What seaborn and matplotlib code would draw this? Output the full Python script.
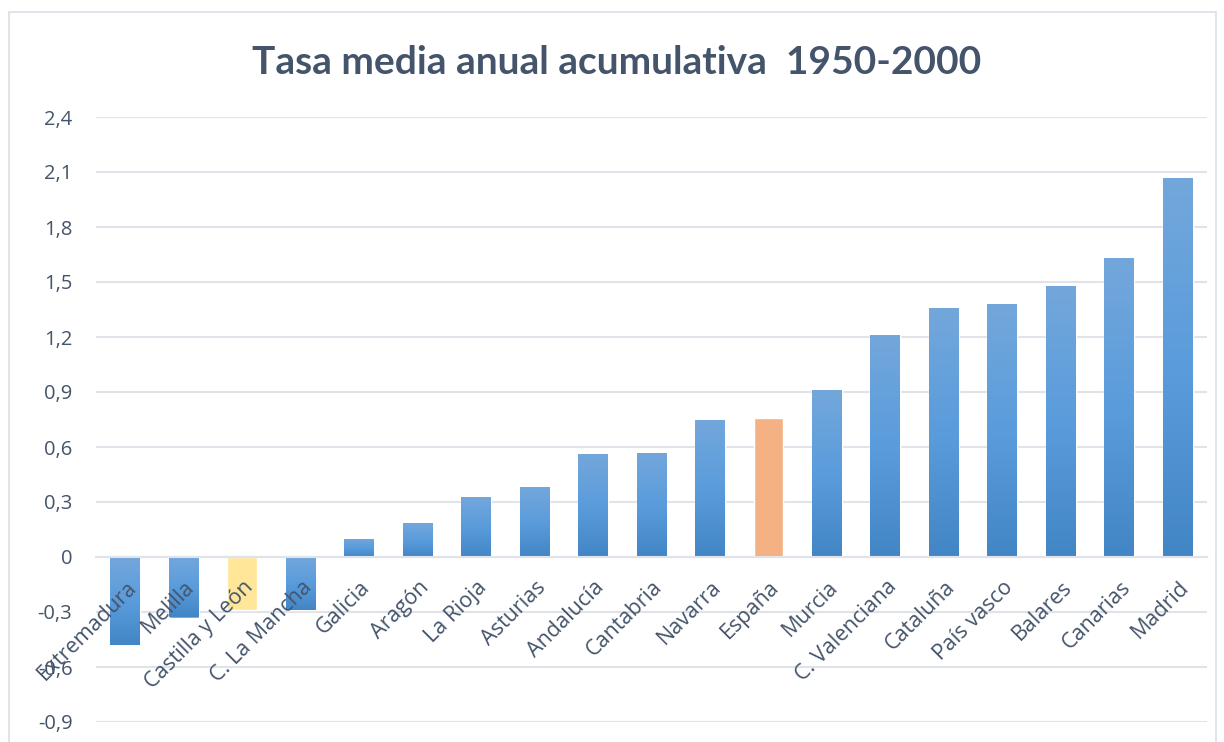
import numpy as np
import pandas as pd
import seaborn as sns
import matplotlib.pyplot as plt
import matplotlib.transforms as mtransforms
from matplotlib.patches import Rectangle
from matplotlib.colors import LinearSegmentedColormap
from matplotlib.ticker import FuncFormatter

# DATA
regions = ['Extremadura', 'Melilla', 'Castilla y León', 'C. La Mancha', 'Galicia',
           'Aragón', 'La Rioja', 'Asturias', 'Andalucía', 'Cantabria', 'Navarra',
           'España', 'Murcia', 'C. Valenciana', 'Cataluña', 'País vasco',
           'Balares', 'Canarias', 'Madrid']
rates = [-0.48, -0.33, -0.29, -0.29, 0.10, 0.185, 0.33, 0.38, 0.56, 0.57, 0.75,
         0.76, 0.91, 1.21, 1.36, 1.38, 1.48, 1.63, 2.07]
highlight = {'Castilla y León': '#FFE699', 'España': '#F4B183'}
y_ticks = [-0.9, -0.6, -0.3, 0, 0.3, 0.6, 0.9, 1.2, 1.5, 1.8, 2.1, 2.4]

df = pd.DataFrame({'region': regions, 'rate': rates})

text_col = '#44546A'
grid_col = '#E0E4EA'
blue = '#5B9BD5'
palette = {r: highlight.get(r, blue) for r in regions}

sns.set_theme(style='white')
plt.rcParams['font.family'] = ['Open Sans', 'DejaVu Sans']

fig = plt.figure(figsize=(12.24, 7.42), dpi=100)
ax = fig.add_axes([96 / 1224, 20 / 742, 1111 / 1224, 605 / 742])

sns.barplot(data=df, x='region', y='rate', hue='region', palette=palette,
            legend=False, width=0.51, saturation=1, ax=ax, zorder=2)

# Excel-like vertical gradient on the blue bars
grad = LinearSegmentedColormap.from_list('g', ['#4386C6', '#5A9CDC', '#73A7DB'])
for patch, r in zip(ax.patches, regions):
    if r in highlight:
        continue
    x0, y0 = patch.get_x(), patch.get_y()
    w, h = patch.get_width(), patch.get_height()
    lo, hi = min(y0, y0 + h), max(y0, y0 + h)
    img = np.linspace(0, 1, 100).reshape(-1, 1)
    im = ax.imshow(img, cmap=grad, origin='lower', aspect='auto',
                   extent=[x0, x0 + w, lo, hi], zorder=2.5)
    im.set_clip_path(patch)

ax.set_xlim(-0.5, len(regions) - 0.5)
ax.set_ylim(-0.9, 2.4)
ax.set_yticks(y_ticks)
ax.yaxis.set_major_formatter(FuncFormatter(
    lambda v, p: '0' if abs(v) < 1e-9 else f'{v:.1f}'.replace('.', ',')))
ax.grid(axis='y', color=grid_col, linewidth=1.5, zorder=0)
ax.set_axisbelow(True)
for s in ['top', 'right', 'left']:
    ax.spines[s].set_visible(False)
ax.spines['bottom'].set_position(('data', 0))
ax.spines['bottom'].set_color(grid_col)
ax.spines['bottom'].set_linewidth(1.5)
ax.spines['bottom'].set_zorder(3)

ax.tick_params(axis='y', length=0, pad=17, labelsize=14.5, labelcolor=text_col)
ax.set_xticks(range(len(regions)))
ax.set_xticklabels([])
ax.tick_params(axis='x', length=0)
ax.set_xlabel('')
ax.set_ylabel('')

# category labels drawn on top of the bars, hanging below the zero line
lab_tr = mtransforms.offset_copy(ax.transData, fig=fig, x=8, y=-27, units='dots')
for i, r in enumerate(regions):
    ax.text(i, 0, r, transform=lab_tr, rotation=45, rotation_mode='anchor',
            ha='right', va='center', fontsize=15.5, color=text_col, zorder=10)

fig.text(617 / 1224, 1 - 63 / 742,
         'Tasa media anual acumulativa  1950-2000', ha='center', va='center',
         fontsize=28, fontweight='bold', color=text_col, family=['Lato', 'DejaVu Sans'])

# chart frame
fig.patches.append(Rectangle((9 / 1224, -0.01), 1207 / 1224, 1 - 12 / 742 + 0.01,
                             transform=fig.transFigure, fill=False,
                             edgecolor='#D9DEE6', linewidth=1.2))

plt.savefig('out.png', dpi=100)
